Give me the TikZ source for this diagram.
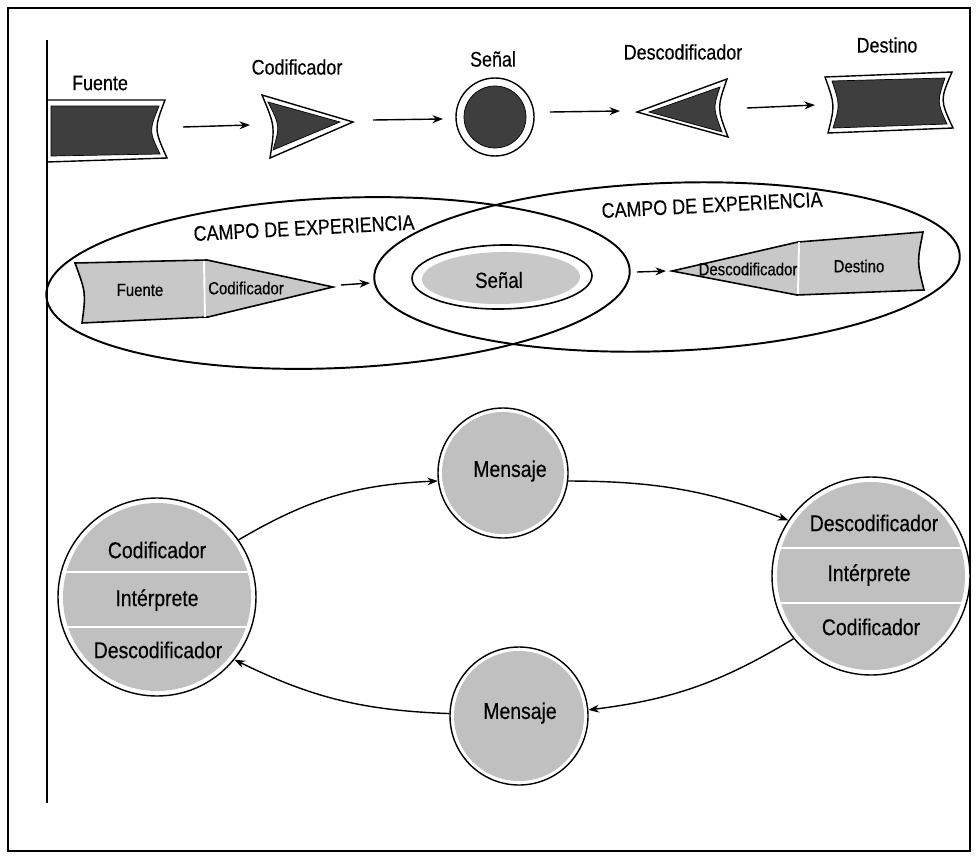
\documentclass[tikz,border=0pt]{standalone}
\usepackage{fontspec}
\setmainfont{Liberation Sans}[FakeStretch=0.85,FakeBold=0.35]
\usetikzlibrary{arrows.meta}
\newdimen\pxu \pxu=0.02cm
\definecolor{darkfill}{HTML}{3E3E3E}
\definecolor{midfill}{HTML}{C8C8C8}
\definecolor{circfill}{HTML}{C0C0C0}
\tikzset{
  arr/.style={line width=0.8pt,-{Stealth[length=6pt,width=4.5pt]}},
  outl/.style={draw=black,line width=0.8pt,fill=white},
  darkin/.style={fill=darkfill,draw=black,line width=0.4pt},
  ell/.style={draw=black,line width=1.1pt},
  blk/.style={draw=black,line width=0.9pt,fill=midfill},
  divl/.style={draw=white,line width=1.1pt},
  toplbl/.style={font=\fontsize{12}{14}\selectfont,inner sep=1pt},
  midlbl/.style={font=\fontsize{10}{12}\selectfont,inner sep=1pt},
  camplbl/.style={font=\fontsize{12}{14}\selectfont,inner sep=1pt,rotate=3},
  bigc/.style={circle,draw=black,line width=0.8pt,fill=white,inner sep=0pt,minimum size=198\pxu},
  botlbl/.style={font=\fontsize{13}{15}\selectfont,inner sep=1pt},
}
\begin{document}
\begin{tikzpicture}[x=0.02cm,y=-0.02cm]
\useasboundingbox (0,0) rectangle (977,859);
\draw[line width=0.6pt] (8,8) rectangle (970,851);

% ---------- top row ----------
\node[toplbl] (tFuL) at (100,83) {Fuente};
\node[toplbl] (tCoL) at (297,67) {Codificador};
\node[toplbl] (tSeL) at (493,59) {Señal};
\node[toplbl] (tDeL) at (683,52) {Descodificador};
\node[toplbl] (tDsL) at (887,45) {Destino};

% Fuente
\draw[outl] (47,100) -- (165,100) .. controls (154,129) .. (167,158) -- (47,162) -- cycle;
\draw[darkin] (51,106) -- (159,106) .. controls (149,131) .. (160,154) -- (51,156) -- cycle;
% Codificador
\draw[outl] (262,95) -- (353,122) -- (270,158) .. controls (275,126) .. (262,95) -- cycle;
\draw[darkin] (268,102) -- (340,122) -- (273,150) .. controls (280,126) .. (268,102) -- cycle;
% Senal
\draw[outl] (495,117) circle [radius=39];
\draw[darkin] (495,117) circle [radius=31];
% Descodificador
\draw[outl] (637,112) -- (727,79) .. controls (717,108) .. (728,137) -- cycle;
\draw[darkin] (649,112) -- (720,87) .. controls (713,108) .. (722,132) -- cycle;
% Destino
\draw[outl] (825,77) -- (952,72) .. controls (940,100) .. (953,128) -- (828,133) .. controls (835,105) .. (825,77) -- cycle;
\draw[darkin] (832,81) -- (945,78) .. controls (937,102) .. (947,124) -- (833,128) .. controls (840,105) .. (832,81) -- cycle;

\coordinate (a1s) at (183,127); \coordinate (a1e) at (250,125);
\coordinate (a2s) at (373,120); \coordinate (a2e) at (443,119);
\coordinate (a3s) at (550,112); \coordinate (a3e) at (620,111);
\coordinate (a4s) at (747,108); \coordinate (a4e) at (815,105);
\draw[arr] (a1s) -- (a1e);
\draw[arr] (a2s) -- (a2e);
\draw[arr] (a3s) -- (a3e);
\draw[arr] (a4s) -- (a4e);

% scan edge
\draw[line width=1.6pt] (47,40) -- (47,803);

% ---------- middle ----------
\draw[ell,rotate around={2.5:(338,283)}] (338,283) ellipse [x radius=292, y radius=85];
\draw[ell,rotate around={2.25:(667,267)}] (667,267) ellipse [x radius=293, y radius=84];

\node[camplbl] (cL) at (304,228) {CAMPO DE EXPERIENCIA};
\node[camplbl] (cR) at (712,205) {CAMPO DE EXPERIENCIA};

% Fuente-Codificador block
\draw[blk] (75,263) -- (207,260) -- (333,287) -- (208,317) -- (82,323) .. controls (86,293) .. (75,263) -- cycle;
\draw[divl] (204,261) -- (205,317);
\node[midlbl] (mFu) at (140,290) {Fuente};
\node[midlbl] (mCo) at (246,288) {Codificador};

% Senal ellipse
\draw[outl,line width=0.9pt,rotate around={1:(502,277)}] (502,277) ellipse [x radius=90, y radius=32];
\fill[midfill,rotate around={1:(501,278)}] (501,278) ellipse [x radius=79, y radius=26];
\node[font=\fontsize{12.5}{14}\selectfont,inner sep=1pt] (mSe) at (499,280) {Señal};

% Descodificador-Destino block
\draw[blk] (672,271) -- (798,242) -- (923,232) .. controls (917,262) .. (924,290) -- (797,295) -- cycle;
\draw[divl] (799,242) -- (798,294);
\node[midlbl] (mDe) at (748,269) {Descodificador};
\node[midlbl] (mDs) at (859,266) {Destino};

\coordinate (b1s) at (341,285); \coordinate (b1e) at (370,283);
\coordinate (b2s) at (637,272); \coordinate (b2e) at (666,271);
\draw[arr] (b1s) -- (b1e);
\draw[arr] (b2s) -- (b2e);

% ---------- bottom cycle ----------
\node[bigc] (lc) at (157,597) {};
\fill[circfill] (157,597) circle [radius=94];
\begin{scope}
\clip (157,597) circle [radius=94];
\draw[divl] (50,572) -- (270,572);
\draw[divl] (50,627) -- (270,627);
\end{scope}
\node[botlbl] (lc1) at (157,550) {Codificador};
\node[botlbl] (lc2) at (157,600) {Intérprete};
\node[botlbl] (lc3) at (158,650) {Descodificador};

\node[bigc] (rc) at (871,576) {};
\fill[circfill] (871,576) circle [radius=94];
\begin{scope}
\clip (871,576) circle [radius=94];
\draw[divl] (760,548) -- (990,548);
\draw[divl] (760,603) -- (990,603);
\end{scope}
\node[botlbl] (rc1) at (874,523) {Descodificador};
\node[botlbl] (rc2) at (869,575) {Intérprete};
\node[botlbl] (rc3) at (871,627) {Codificador};

\node[bigc,minimum size=130\pxu] (m1) at (503,473) {};
\fill[circfill] (503,473) circle [radius=61];
\node[botlbl] (m1t) at (510,471) {Mensaje};

\node[bigc,minimum size=138\pxu] (m2) at (519,716) {};
\fill[circfill] (519,716) circle [radius=65];
\node[botlbl] (m2t) at (520,713) {Mensaje};

\draw[arr] (lc.35) to[bend left=14] (m1.187);
\draw[arr] (m1.353) to[bend left=10] (rc.146);
\draw[arr] (rc.219) to[bend left=12] (m2.5);
\draw[arr] (m2.178) to[bend left=12] (lc.321);
\end{tikzpicture}
\end{document}
